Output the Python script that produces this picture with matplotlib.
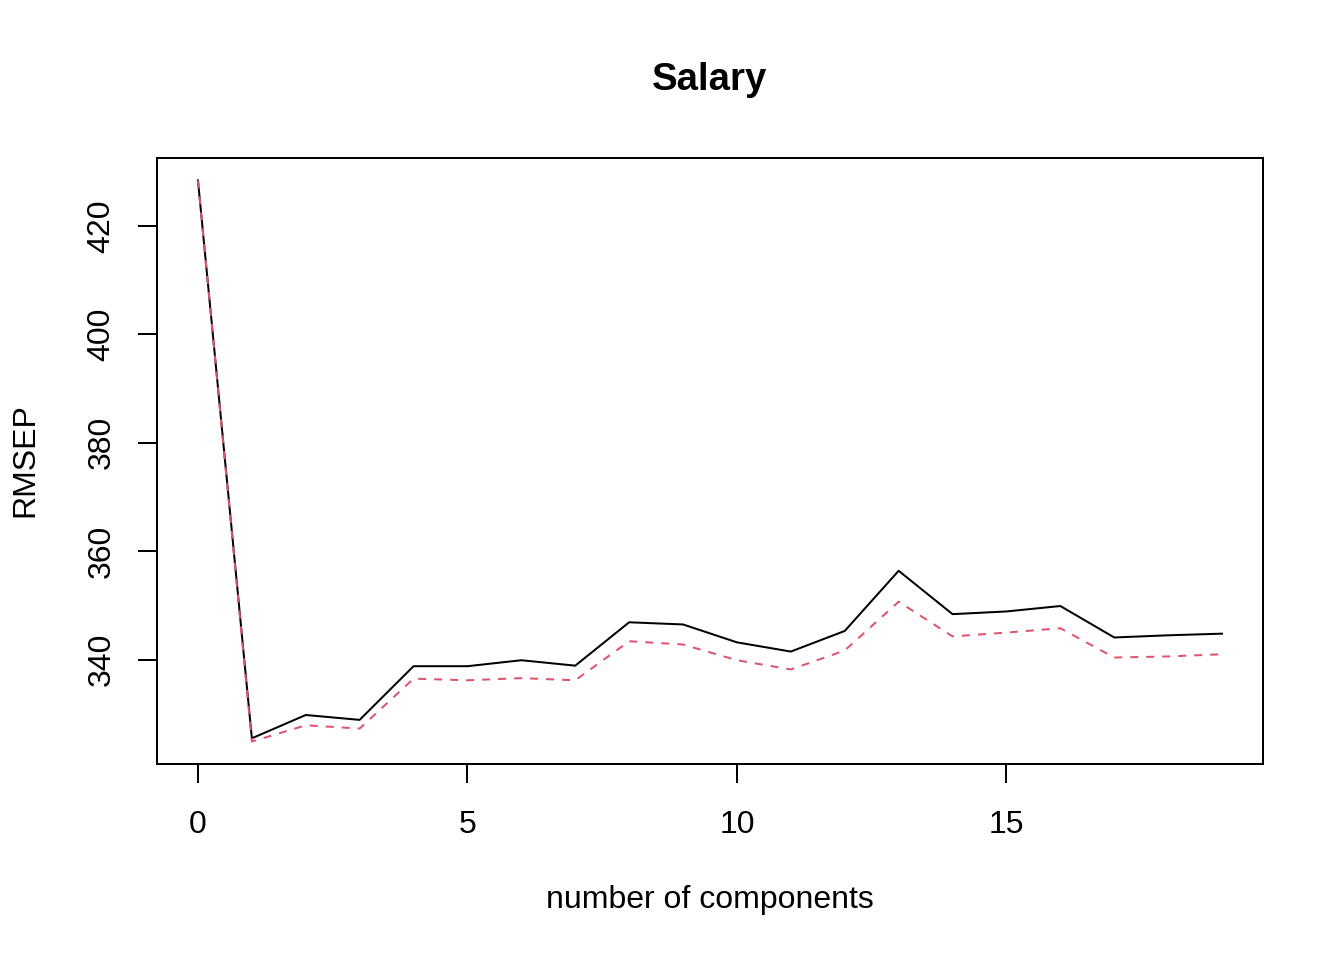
"""validation plot of RMSEP vs number of components (Salary)"""
import matplotlib
matplotlib.use("Agg")
import matplotlib.pyplot as plt

plt.rcParams["font.family"] = ["Liberation Sans", "DejaVu Sans"]

# RMSEP
components = list(range(20))
cv = [428.4, 325.5, 329.8, 328.9, 338.8, 338.8, 339.9, 338.9, 346.9, 346.5,
      343.2, 341.5, 345.3, 356.4, 348.4, 348.9, 349.9, 344.1, 344.5, 344.8]
adj_cv = [428.4, 324.9, 327.9, 327.3, 336.5, 336.2, 336.6, 336.2, 343.4, 342.8,
          339.9, 338.2, 341.7, 350.7, 344.3, 345.0, 345.8, 340.4, 340.6, 341.0]
x_ticks = [0, 5, 10, 15]
y_ticks = [340, 360, 380, 400, 420]

W, H = 1344, 960
fig = plt.figure(figsize=(7, 5), dpi=192)
ax = fig.add_axes([157 / W, 196 / H, (1263 - 157) / W, (763 - 157) / H])

ax.plot(components, cv, color="black", lw=0.75)
ax.plot(components, adj_cv, color="#DF536B", lw=0.75, dashes=(4, 4))

# R style 4% padding
xr = max(components) - min(components)
ax.set_xlim(min(components) - 0.04 * xr, max(components) + 0.04 * xr)
lo = min(cv + adj_cv)
hi = max(cv + adj_cv)
ax.set_ylim(lo - 0.04 * (hi - lo), hi + 0.04 * (hi - lo))

ax.set_xticks(x_ticks)
ax.set_yticks(y_ticks)
ax.set_yticklabels([str(v) for v in y_ticks], rotation=90, va="center")
ax.tick_params(axis="both", length=7.1, width=0.75, labelsize=12, direction="out")
ax.tick_params(axis="x", pad=10)
ax.tick_params(axis="y", pad=8)
for s in ax.spines.values():
    s.set_linewidth(0.75)

fig.text(0.5 * (157 + 1263) / W, 1 - 80 / H, "Salary", ha="center", va="center",
         fontsize=14.4, fontweight="bold")
fig.text(0.5 * (157 + 1263) / W, 1 - 900 / H, "number of components", ha="center",
         va="center", fontsize=12)
fig.text(25 / W, 1 - 460 / H, "RMSEP", ha="center", va="center", rotation=90, fontsize=12)

fig.savefig("out.png", dpi=192)
